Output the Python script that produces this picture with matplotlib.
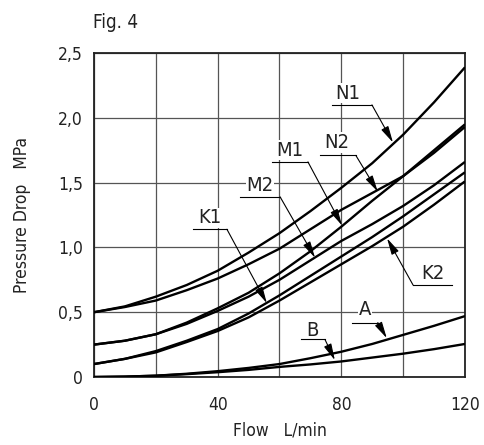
import matplotlib
matplotlib.use('Agg')
import matplotlib.pyplot as plt

plt.rcParams['font.family'] = ['DejaVu Sans']
plt.rcParams['font.stretch'] = 'condensed'

###### Data #######
flow = [0, 10, 20, 30, 40, 50, 60, 70, 80, 90, 100, 110, 120]

n1 = [0.50, 0.545, 0.62, 0.71, 0.82, 0.96, 1.11, 1.28, 1.46, 1.65, 1.87, 2.12, 2.39]
n2 = [0.50, 0.54, 0.59, 0.67, 0.76, 0.87, 0.99, 1.14, 1.29, 1.42, 1.55, 1.73, 1.93]
m1 = [0.25, 0.28, 0.33, 0.42, 0.53, 0.65, 0.80, 0.97, 1.16, 1.36, 1.55, 1.75, 1.95]
m2 = [0.25, 0.28, 0.33, 0.41, 0.51, 0.62, 0.75, 0.90, 1.05, 1.18, 1.32, 1.48, 1.66]
k1 = [0.10, 0.14, 0.20, 0.28, 0.37, 0.49, 0.63, 0.78, 0.93, 1.08, 1.24, 1.41, 1.58]
k2 = [0.10, 0.14, 0.19, 0.27, 0.355, 0.46, 0.59, 0.73, 0.87, 1.01, 1.16, 1.33, 1.51]
a = [0.0, 0.003, 0.01, 0.025, 0.045, 0.07, 0.10, 0.145, 0.195, 0.255, 0.325, 0.395, 0.47]
b = [0.0, 0.003, 0.01, 0.022, 0.037, 0.055, 0.078, 0.097, 0.12, 0.15, 0.18, 0.215, 0.255]

curves = [n1, n2, m1, m2, k1, k2, a, b]

x_ticks = [0, 20, 40, 60, 80, 100, 120]
x_labels = ['0', '', '40', '', '80', '', '120']
y_ticks = [0, 0.5, 1.0, 1.5, 2.0, 2.5]
y_labels = ['0', '0,5', '1,0', '1,5', '2,0', '2,5']

# label text, text pos, underline x range + y, arrow tip, leader starts at underline 'left'/'right'
labels = [
    ('N1', (82.1, 2.19), (77.0, 89.9, 2.10), (96.7, 1.81), 'right'),
    ('N2', (78.6, 1.81), (73.1, 84.7, 1.71), (91.8, 1.43), 'right'),
    ('M1', (63.4, 1.75), (57.6, 69.2, 1.66), (80.2, 1.17), 'right'),
    ('M2', (53.7, 1.48), (47.2, 60.2, 1.39), (71.5, 0.92), 'right'),
    ('K1', (37.5, 1.23), (32.0, 43.0, 1.14), (55.9, 0.57), 'right'),
    ('K2', (109.6, 0.80), (103.2, 115.8, 0.71), (94.8, 1.07), 'left'),
    ('A', (87.6, 0.52), (83.4, 91.8, 0.42), (94.7, 0.30), 'right'),
    ('B', (70.5, 0.36), (66.9, 74.7, 0.29), (77.9, 0.13), 'right'),
]
######################

fig = plt.figure(figsize=(4.84, 4.45), dpi=100)
ax = fig.add_axes([0.1942, 0.1528, 0.7665, 0.728])

for c in curves:
    ax.plot(flow, c, color='black', lw=1.7, zorder=3, solid_capstyle='butt')

ax.set_xlim(0, 120)
ax.set_ylim(0, 2.5)
ax.set_xticks(x_ticks)
ax.set_xticklabels(x_labels)
ax.set_yticks(y_ticks)
ax.set_yticklabels(y_labels)
ax.tick_params(length=0, labelsize=12.5, colors='#222222')
ax.tick_params(axis='x', pad=14)
ax.tick_params(axis='y', pad=8)
ax.grid(True, color='#555555', lw=0.9, zorder=1)
for s in ax.spines.values():
    s.set_linewidth(1.3)
    s.set_color('#222222')

for name, tpos, (u0, u1, uy), tip, side in labels:
    ax.text(tpos[0], tpos[1], name, fontsize=14.5, ha='center', va='center',
            color='#222222', zorder=4,
            bbox=dict(facecolor='white', edgecolor='none', pad=0.5))
    ax.plot([u0, u1], [uy, uy], color='black', lw=0.8, zorder=4)
    start = (u1, uy) if side == 'right' else (u0, uy)
    ax.annotate('', xy=tip, xytext=start, zorder=5,
                arrowprops=dict(arrowstyle='-|>,head_length=1.0,head_width=0.24',
                                color='black', lw=0.8, shrinkA=0, shrinkB=0,
                                mutation_scale=10))

ax.set_xlabel('Flow   L/min', fontsize=12.5, labelpad=5, color='#222222')
ax.set_ylabel('Pressure Drop   MPa', fontsize=12.5, labelpad=19, color='#222222')
fig.text(93 / 484, 1 - 22 / 445, 'Fig. 4', fontsize=13.5, ha='left', va='center',
         color='#222222')

fig.savefig('out.png', dpi=100)
